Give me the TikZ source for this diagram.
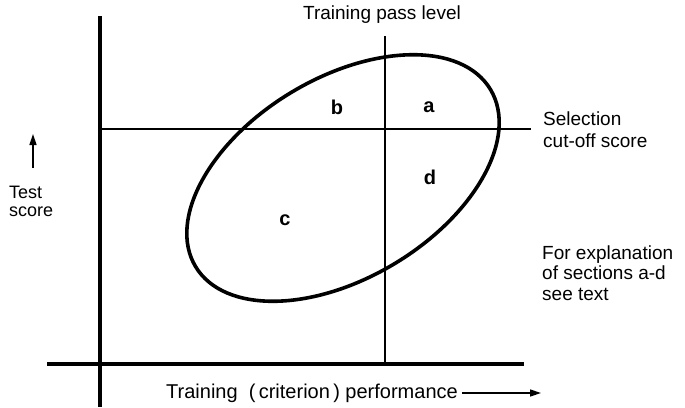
\documentclass[tikz,border=0pt]{standalone}
\usepackage{fontspec}
\setmainfont{Liberation Sans}
\usetikzlibrary{arrows.meta}
\begin{document}
\begin{tikzpicture}[x=1pt,y=-1pt,
  txt/.style={font=\fontsize{19}{20.5}\selectfont, inner sep=0pt, align=left},
  seclbl/.style={font=\fontsize{20}{20}\selectfont\bfseries, inner sep=0pt},
  heavy/.style={line width=4pt},
  thin/.style={line width=1.8pt},
  arr/.style={line width=1.5pt, -{Triangle[length=11pt,width=7pt]}}]
\useasboundingbox (0,0) rectangle (685,407);
% axes
\coordinate (yaxtop) at (100,16);
\coordinate (yaxbot) at (100,407);
\coordinate (xaxl) at (47,364);
\coordinate (xaxr) at (524,364);
\draw[heavy] (yaxtop) -- (yaxbot);
\draw[heavy] (xaxl) -- (xaxr);
% pass level and cut-off
\coordinate (passtop) at (385,36);
\coordinate (passbot) at (385,364);
\coordinate (cutl) at (100,129);
\coordinate (cutr) at (531,129);
\draw[thin] (passtop) -- (passbot);
\draw[thin] (cutl) -- (cutr);
% ellipse
\coordinate (ec) at (343,178);
\draw[line width=3.6pt, rotate around={31:(ec)}] (ec) ellipse [x radius=172, y radius=100];
% section labels
\node[seclbl] (b) at (337,107) {b};
\node[seclbl] (a) at (429,107) {a};
\node[seclbl] (d) at (430,177) {d};
\node[seclbl] (c) at (285,220) {c};
% texts
\node[txt] (title) at (382,15) {Training pass level};
\node[txt, anchor=west, font=\fontsize{19}{22}\selectfont] (sel) at (543,130) {Selection\\cut-off score};
\node[txt, anchor=west, font=\fontsize{18}{18}\selectfont] (test) at (9,201) {Test\\score};
\node[txt, anchor=west] (expl) at (542,273) {For explanation\\of sections a-d\\see text};
\node[txt, anchor=east, font=\fontsize{20}{22}\selectfont] (perf) at (458,393) {Training\ \ (\,criterion\,) performance};
% arrows
\coordinate (upbot) at (33,168);
\coordinate (uptop) at (33,134);
\draw[arr] (upbot) -- (uptop);
\coordinate (rtend) at (541,393);
\draw[arr] (perf.east) ++(4,0) coordinate (rtstart) -- (rtend);
\end{tikzpicture}
\end{document}
